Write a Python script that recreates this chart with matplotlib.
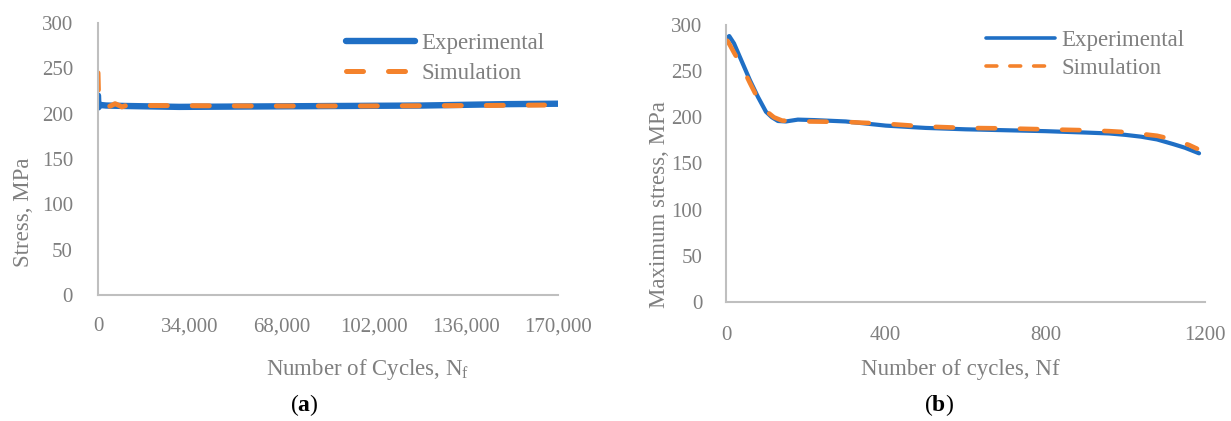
"""
Stress vs number of cycles: experimental and simulation, two panels (a) and (b).
"""

import matplotlib
matplotlib.use("Agg")
import matplotlib.pyplot as plt
from matplotlib.lines import Line2D
from matplotlib.ticker import FuncFormatter

plt.rcParams["font.family"] = ["Liberation Serif", "DejaVu Serif"]
plt.rcParams["mathtext.fontset"] = "custom"
plt.rcParams["mathtext.rm"] = "Liberation Serif"
plt.rcParams["mathtext.bf"] = "Liberation Serif:bold"

# ---- panel (a): stress over 170,000 cycles ----
exp_a_x = [0, 150, 500, 1200, 3000, 10000, 30000, 60000, 90000, 120000, 150000, 170000]
exp_a_y = [220, 207, 210, 209.5, 209, 208.5, 207.5, 208, 208.5, 209, 210.5, 211]
sim_a_x = [0, 250, 1200, 2500, 3700, 5000, 6300, 7500, 8800, 10500, 20000,
           60000, 100000, 140000, 165000]
sim_a_y = [245, 213, 209.5, 208.5, 207.5, 209, 211, 209.5, 207.5, 209, 209,
           208.5, 208.5, 209, 209.5]
xticks_a = [0, 34000, 68000, 102000, 136000, 170000]

# ---- panel (b): maximum stress over 1200 cycles ----
exp_b_x = [3, 8, 20, 40, 60, 80, 100, 115, 130, 150, 180, 220, 300, 400, 500,
           600, 700, 800, 900, 960, 1000, 1040, 1080, 1120, 1150, 1185]
exp_b_y = [286, 288, 280, 260, 240, 222, 206, 200, 196, 195.5, 197.5, 197,
           195.5, 191, 188.5, 187, 186, 185, 183.5, 182.5, 181, 179, 176, 171,
           167, 161]
sim_b_x = [3, 10, 20, 40, 60, 80, 100, 120, 140, 170, 200, 300, 400, 500, 600,
           700, 800, 900, 960, 1000, 1040, 1080, 1120, 1160, 1180]
sim_b_y = [283, 278, 270, 255, 237, 220, 207, 200, 196.5, 195.5, 195.5, 195,
           193, 190, 188.5, 188, 187, 186, 185, 184, 182, 180, 176, 170, 166]
xticks_b = [0, 400, 800, 1200]

yticks = [0, 50, 100, 150, 200, 250, 300]

BLUE = "#1f6fc5"
ORANGE = "#f4822c"
GRAY = "#7f7f7f"
AXIS = "#bfbfbf"


def style_axes(ax, xpad, ypad):
    for s in ("top", "right"):
        ax.spines[s].set_visible(False)
    for s in ("left", "bottom"):
        ax.spines[s].set_color(AXIS)
        ax.spines[s].set_linewidth(1.5)
    ax.tick_params(axis="x", length=0, pad=xpad, labelsize=15, labelcolor=GRAY)
    ax.tick_params(axis="y", length=0, pad=ypad, labelsize=15, labelcolor=GRAY)
    ax.set_yticks(yticks)
    ax.set_ylim(0, 300)


fig = plt.figure(figsize=(12.31, 4.21), dpi=100)

# (a)
ax1 = fig.add_axes([0.0796, 0.2993, 0.3737, 0.646])
ax1.plot(exp_a_x, exp_a_y, color=BLUE, lw=4.6, solid_capstyle="round",
         label="Experimental")
ax1.plot(sim_a_x, sim_a_y, color=ORANGE, lw=3.6, dashes=(3.4, 5.0),
         dash_capstyle="round", label="Simulation")
ax1.set_xlim(0, 170000)
ax1.set_xticks(xticks_a)
ax1.xaxis.set_major_formatter(FuncFormatter(lambda v, p: f"{int(v):,}"))
style_axes(ax1, xpad=16, ypad=18)
ax1.set_xlabel(r"Number of Cycles, N$_{\mathrm{f}}$", fontsize=16.5,
               color=GRAY, va="center")
ax1.xaxis.set_label_coords(0.587, -0.275)
ax1.set_ylabel("Stress, MPa", fontsize=16.5, color=GRAY, va="center")
ax1.yaxis.set_label_coords(-0.162, 0.305)
leg1 = ax1.legend(loc="upper left", bbox_to_anchor=(0.539, 0.962), frameon=False,
                  fontsize=16.5, handlelength=3.0, handletextpad=0.3,
                  labelspacing=0.38, borderpad=0, borderaxespad=0)
for t in leg1.get_texts():
    t.set_color(GRAY)

# (b)
ax2 = fig.add_axes([0.5898, 0.2827, 0.3891, 0.658])
ax2.plot(exp_b_x, exp_b_y, color=BLUE, lw=3.0, solid_capstyle="round")
ax2.plot(sim_b_x, sim_b_y, color=ORANGE, lw=3.3, dashes=(3.8, 5.4),
         dash_capstyle="round")
ax2.set_xlim(0, 1200)
ax2.set_xticks(xticks_b)
style_axes(ax2, xpad=17, ypad=17)
ax2.set_xlabel("Number of cycles, Nf", fontsize=16.5, color=GRAY, va="center")
ax2.xaxis.set_label_coords(0.489, -0.245)
ax2.set_ylabel("Maximum stress, MPa", fontsize=16.5, color=GRAY, va="center")
ax2.yaxis.set_label_coords(-0.139, 0.35)
handles_b = [
    Line2D([], [], color=BLUE, lw=2.6, solid_capstyle="round"),
    Line2D([], [], color=ORANGE, lw=2.6, dashes=(3.0, 3.6), dash_capstyle="round"),
]
leg2 = ax2.legend(handles_b, ["Experimental", "Simulation"], loc="upper left",
                  bbox_to_anchor=(0.543, 0.982), frameon=False, fontsize=16.5,
                  handlelength=3.0, handletextpad=0.3, labelspacing=0.3,
                  borderpad=0, borderaxespad=0)
for t in leg2.get_texts():
    t.set_color(GRAY)

# panel tags
fig.text(304 / 1231, 1 - 405 / 421, r"($\mathbf{a}$)", fontsize=17,
         ha="center", va="center", color="black")
fig.text(939 / 1231, 1 - 405 / 421, r"($\mathbf{b}$)", fontsize=17,
         ha="center", va="center", color="black")

fig.savefig("out.png", dpi=100)
